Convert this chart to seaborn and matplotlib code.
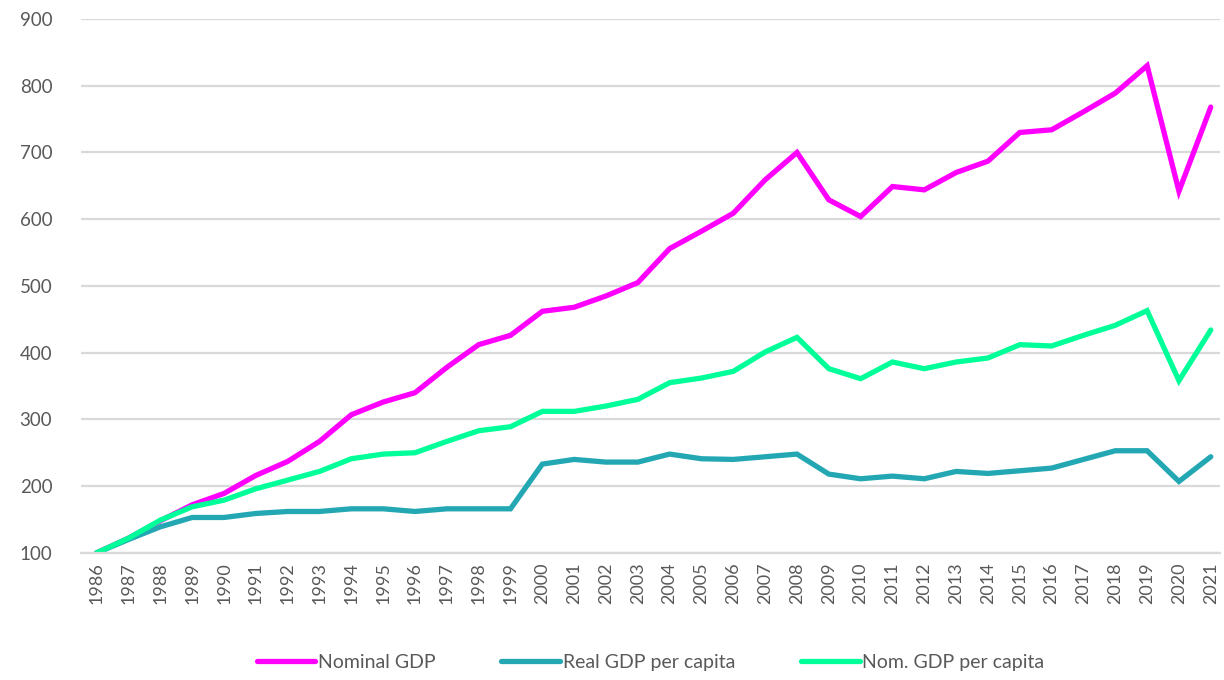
import pandas as pd
import matplotlib
matplotlib.use("Agg")
import matplotlib.pyplot as plt
import seaborn as sns

years = list(range(1986, 2022))

nominal_gdp = [100, 122, 148, 172, 189, 216, 237, 267, 307, 326, 340, 378, 412,
               426, 462, 468, 485, 505, 556, 582, 609, 659, 700, 629, 604, 649,
               644, 670, 687, 730, 734, 761, 789, 830, 642, 768]
real_gdp_pc = [100, 120, 139, 153, 153, 159, 162, 162, 166, 166, 162, 166, 166,
               166, 233, 240, 236, 236, 248, 241, 240, 244, 248, 218, 211, 215,
               211, 222, 219, 223, 227, 240, 253, 253, 207, 244]
nom_gdp_pc = [100, 122, 149, 169, 179, 196, 209, 222, 241, 248, 250, 267, 283,
              289, 312, 312, 320, 330, 355, 362, 372, 401, 423, 376, 361, 386,
              376, 386, 392, 412, 410, 426, 441, 463, 358, 434]

series_names = ["Nominal GDP", "Real GDP per capita", "Nom. GDP per capita"]
colors = ["#FF00FF", "#23A8B3", "#00FF99"]

df = pd.DataFrame({
    "Year": years * 3,
    "Value": nominal_gdp + real_gdp_pc + nom_gdp_pc,
    "Series": [series_names[0]] * len(years) + [series_names[1]] * len(years)
              + [series_names[2]] * len(years),
})

sns.set_theme(style="white")
plt.rcParams["font.family"] = ["Lato", "DejaVu Sans"]

fig = plt.figure(figsize=(12.24, 6.8), dpi=100)
ax = fig.add_axes([0.066, 0.187, 0.931, 0.785])

sns.lineplot(data=df, x="Year", y="Value", hue="Series", hue_order=series_names,
             palette=colors, linewidth=3.8, ax=ax, legend=True,
             solid_joinstyle="miter", solid_capstyle="round")

ax.set_ylim(100, 900)
ax.set_yticks(range(100, 1000, 100))
ax.set_xlim(1985.5, 2021.3)
ax.set_xticks(years)
ax.set_xticklabels([str(y) for y in years], rotation=90, fontsize=13, color="#595959")
ax.tick_params(axis="y", labelsize=13.5, labelcolor="#595959", length=0, pad=44)
ax.tick_params(axis="x", length=0, pad=7)
for lbl in ax.get_yticklabels():
    lbl.set_horizontalalignment("left")

ax.grid(axis="y", color="#D9D9D9", linewidth=1.6)
ax.set_axisbelow(True)
for side in ["top", "right", "left"]:
    ax.spines[side].set_visible(False)
ax.spines["bottom"].set_color("#D9D9D9")
ax.spines["bottom"].set_linewidth(1.6)
ax.set_xlabel("")
ax.set_ylabel("")

handles, labels = ax.get_legend_handles_labels()
ax.legend(handles, labels, loc="center", bbox_to_anchor=(0.5, -0.206), ncol=3,
          frameon=False, fontsize=14, handlelength=3.0, handletextpad=0.15,
          columnspacing=3.4, labelcolor="#595959")

fig.savefig("out.png", dpi=100)
